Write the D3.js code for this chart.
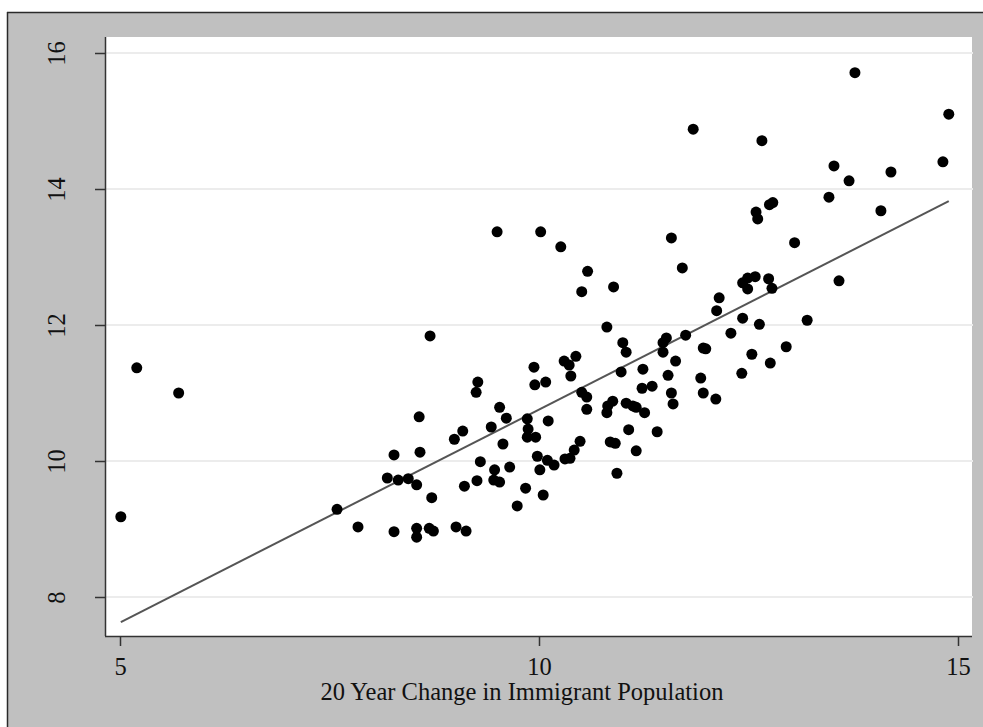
<!DOCTYPE html>
<html>
<head>
<meta charset="utf-8">
<script src="https://cdn.jsdelivr.net/npm/d3@7"></script>
<style>
  html, body { margin: 0; padding: 0; background: #ffffff; }
  svg { display: block; }
  text { font-family: "Liberation Serif", "Times New Roman", serif; fill: #111; }
</style>
</head>
<body>
<svg id="chart" width="983" height="727"></svg>
<script>
// 20-year change in immigrant population (x) against outcome (y)
const xValues = [
  5.01, 5.20, 5.70, 7.59, 7.84, 8.27, 8.54, 8.54, 8.69, 8.74,
  9.01, 9.13, 8.19, 8.32, 8.44, 8.54, 8.72, 8.27, 8.58, 8.57,
  8.70, 8.99, 9.09, 9.25, 9.27, 9.43, 9.53, 9.61, 9.57, 9.30,
  9.26, 9.11, 9.47, 9.46, 9.53, 9.65, 9.74, 9.84, 10.05, 10.01,
  9.98, 10.10, 10.18, 9.86, 9.87, 9.86, 9.96, 10.11, 9.94, 9.95,
  10.08, 9.50, 10.02, 10.26, 10.30, 10.36, 10.44, 10.38, 10.51, 10.58,
  10.51, 10.57, 10.57, 10.31, 10.37, 10.42, 10.49, 10.81, 10.89, 10.81,
  10.82, 10.88, 10.85, 10.91, 10.93, 11.00, 11.04, 10.98, 11.04, 11.12,
  11.16, 11.26, 11.07, 11.16, 11.24, 11.23, 11.35, 11.41, 11.52, 11.48,
  11.48, 11.63, 11.54, 11.58, 11.60, 11.58, 11.71, 11.84, 11.75, 11.96,
  11.99, 11.93, 11.96, 12.11, 12.15, 12.12, 12.29, 12.42, 12.43, 12.43,
  12.49, 12.58, 12.49, 12.74, 12.78, 12.63, 12.54, 12.76, 12.95, 13.20,
  12.66, 12.59, 12.61, 12.79, 12.75, 13.05, 13.46, 13.52, 13.70, 13.58,
  13.77, 14.08, 14.20, 14.82, 14.89
];
const yValues = [
  9.18, 11.37, 11.00, 9.29, 9.03, 8.96, 9.01, 8.88, 9.01, 8.97,
  9.03, 8.97, 9.75, 9.72, 9.74, 9.65, 9.46, 10.09, 10.13, 10.65,
  11.84, 10.32, 10.44, 11.01, 11.16, 10.50, 10.79, 10.63, 10.25, 9.99,
  9.71, 9.63, 9.87, 9.72, 9.69, 9.91, 9.34, 9.60, 9.50, 9.87,
  10.07, 10.01, 9.94, 10.62, 10.47, 10.35, 10.35, 10.59, 11.38, 11.12,
  11.16, 13.37, 13.37, 13.15, 11.47, 11.41, 11.54, 11.25, 12.49, 12.79,
  11.01, 10.94, 10.76, 10.03, 10.04, 10.16, 10.29, 11.97, 12.56, 10.71,
  10.81, 10.88, 10.28, 10.26, 9.82, 11.74, 11.60, 11.31, 10.85, 10.81,
  10.79, 10.71, 10.46, 10.15, 11.35, 11.07, 11.10, 10.43, 11.81, 11.74,
  11.60, 11.47, 11.26, 11.00, 10.84, 13.28, 12.84, 14.88, 11.85, 11.66,
  11.65, 11.22, 11.00, 10.91, 12.40, 12.21, 11.88, 11.29, 12.10, 12.62,
  12.69, 12.71, 12.53, 12.68, 12.54, 12.01, 11.57, 11.44, 11.68, 12.07,
  14.71, 13.66, 13.56, 13.80, 13.77, 13.21, 13.88, 14.34, 14.12, 12.65,
  15.71, 13.68, 14.25, 14.40, 15.10
];

// linear fit: y = fitIntercept + fitSlope * x
const fitIntercept = 4.492;
const fitSlope = 0.6265;

const xTicks = [5, 10, 15];
const yTicks = [8, 10, 12, 14, 16];
const xTitle = "20 Year Change in Immigrant Population";

const points = xValues.map((x, i) => ({ x, y: yValues[i] }));

const W = 983, H = 727;
const plot = { left: 105, right: 972, top: 37, bottom: 636 };
const FONT_SIZE = "24.5px";

const svg = d3.select("#chart");

// outer graph region
svg.append("rect")
  .attr("x", 7).attr("y", 12)
  .attr("width", W - 7).attr("height", H - 12)
  .attr("fill", "#c0c0c0");
svg.append("line")
  .attr("x1", 7).attr("x2", W).attr("y1", 12.5).attr("y2", 12.5)
  .attr("stroke", "#2a2a2a").attr("stroke-width", 1.5);
svg.append("line")
  .attr("x1", 7.5).attr("x2", 7.5).attr("y1", 12).attr("y2", H)
  .attr("stroke", "#2a2a2a").attr("stroke-width", 1.5);

// plot region
svg.append("rect")
  .attr("x", plot.left).attr("y", plot.top)
  .attr("width", plot.right - plot.left).attr("height", plot.bottom - plot.top)
  .attr("fill", "#ffffff");

const x = d3.scaleLinear()
  .domain([5 - (120 - plot.left) / 83.8, 15 + (plot.right - 958) / 83.8])
  .range([plot.left, plot.right]);
const y = d3.scaleLinear()
  .domain([8 - (plot.bottom - 597) / 68, 16 + (53 - plot.top) / 68])
  .range([plot.bottom, plot.top]);

// horizontal grid
svg.append("g")
  .selectAll("line")
  .data(yTicks)
  .join("line")
  .attr("x1", plot.left).attr("x2", plot.right + 1)
  .attr("y1", d => y(d)).attr("y2", d => y(d))
  .attr("stroke", "#ececec").attr("stroke-width", 2);

// fitted line across the observed x range
const [xmin, xmax] = d3.extent(xValues);
svg.append("line")
  .attr("x1", x(xmin)).attr("y1", y(fitIntercept + fitSlope * xmin))
  .attr("x2", x(xmax)).attr("y2", y(fitIntercept + fitSlope * xmax))
  .attr("stroke", "#555555").attr("stroke-width", 2);

// scatter
svg.append("g")
  .selectAll("circle")
  .data(points)
  .join("circle")
  .attr("cx", d => x(d.x))
  .attr("cy", d => y(d.y))
  .attr("r", 5.5)
  .attr("fill", "#000000");

// axes
const yAxis = svg.append("g")
  .attr("transform", `translate(${plot.left},0)`)
  .call(d3.axisLeft(y).tickValues(yTicks).tickSize(10).tickFormat(d3.format("d")));
yAxis.select(".domain").attr("stroke", "#333").attr("stroke-width", 1.5)
  .attr("d", `M0.5,${plot.top}V${plot.bottom}`);
yAxis.selectAll(".tick line").attr("stroke", "#333").attr("stroke-width", 1.5);
yAxis.selectAll(".tick text")
  .attr("x", null).attr("dy", null)
  .attr("transform", `translate(${65 - plot.left},0) rotate(-90)`)
  .attr("text-anchor", "middle")
  .style("font-family", '"Liberation Serif", serif')
  .style("font-size", FONT_SIZE)
  .attr("fill", "#111");

const xAxis = svg.append("g")
  .attr("transform", `translate(0,${plot.bottom})`)
  .call(d3.axisBottom(x).tickValues(xTicks).tickSize(10).tickFormat(d3.format("d")));
xAxis.select(".domain").attr("stroke", "#333").attr("stroke-width", 1.5)
  .attr("d", `M${plot.left},0.5H${plot.right}`);
xAxis.selectAll(".tick line").attr("stroke", "#333").attr("stroke-width", 1.5);
xAxis.selectAll(".tick text")
  .attr("y", 675 - plot.bottom).attr("dy", null)
  .attr("text-anchor", "middle")
  .style("font-family", '"Liberation Serif", serif')
  .style("font-size", FONT_SIZE)
  .attr("fill", "#111");

// x axis title
svg.append("text")
  .attr("x", 522).attr("y", 700)
  .attr("text-anchor", "middle")
  .style("font-size", FONT_SIZE)
  .text(xTitle);
</script>
</body>
</html>
